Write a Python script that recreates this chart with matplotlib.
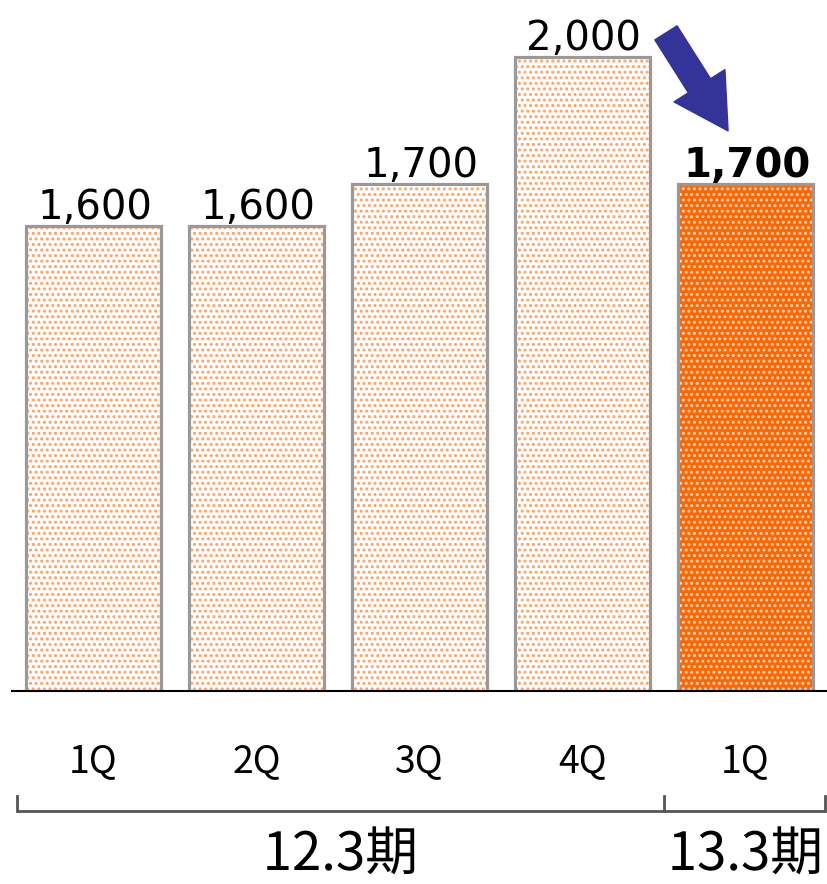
import matplotlib
matplotlib.use("Agg")
import matplotlib.pyplot as plt
import matplotlib.transforms as mtransforms
import matplotlib.patheffects as pe

quarters = ["1Q", "2Q", "3Q", "4Q", "1Q"]
values = [1600, 1600, 1700, 2000, 1700]
labels = ["1,600", "1,600", "1,700", "2,000", "1,700"]
periods = ["12.3期", "13.3期"]
period_spans = [(0, 3), (4, 4)]

plt.rcParams["hatch.linewidth"] = 1.4

fig = plt.figure(figsize=(8.27, 8.84), dpi=100)
ax = fig.add_axes([12 / 827, (884 - 691) / 884, 815 / 827, 691 / 884])
ymin = 500
ax.set_xlim(-0.5, 4.5)
ax.set_ylim(ymin, ymin + 691 / 0.4227)

x = list(range(len(values)))
heights = [v - ymin for v in values]
w = 0.83
light = x[:-1]
# light bars: white fill with orange dots
ax.bar(light, heights[:-1], w, bottom=ymin, color="white", edgecolor="#FFA060",
       hatch="...", linewidth=0)
# highlighted bar: orange fill with white dots
ax.bar(x[-1], heights[-1], w, bottom=ymin, color="#FF6600", edgecolor="#FFD8BF",
       hatch="...", linewidth=0)
# gray outlines
ax.bar(x, heights, w, bottom=ymin, fill=False, edgecolor="#999999", linewidth=2.3)

for i, (v, t) in enumerate(zip(values, labels)):
    bold = i == len(values) - 1
    ax.annotate(t, (i, v), xytext=(1, 5), textcoords="offset points",
                ha="center", va="baseline", fontsize=29,
                fontweight="bold" if bold else "normal", family="DejaVu Sans")

for s in ["top", "right", "left"]:
    ax.spines[s].set_visible(False)
ax.spines["bottom"].set_linewidth(1.5)
ax.spines["bottom"].set_color("black")
ax.set_xticks([])
ax.set_yticks([])

tr = mtransforms.blended_transform_factory(ax.transData, fig.transFigure)

def fy(py):
    return (884 - py) / 884

for i, q in enumerate(quarters):
    ax.text(i, fy(762), q, transform=tr, ha="center", va="center",
            fontsize=27, family=["Noto Sans CJK JP", "DejaVu Sans"])

# bracket
bx = [-0.47, 3.5, 4.5 - 0.01]
ax.plot([bx[0], bx[-1]], [fy(811), fy(811)], transform=tr, color="#555555",
        lw=2, clip_on=False, solid_capstyle="butt")
for b in bx:
    ax.plot([b, b], [fy(796), fy(811)], transform=tr, color="#555555",
            lw=2, clip_on=False)

for (a, b), p in zip(period_spans, periods):
    cx = (bx[0] + 3.5) / 2 if a == 0 else 4.0
    t = ax.text(cx, fy(882), p, transform=tr, ha="center", va="bottom",
                fontsize=38, family=["Noto Sans CJK JP", "DejaVu Sans"])
    t.set_path_effects([pe.SimpleLineShadow(offset=(2, -2), shadow_color="#888888",
                                            alpha=0.6, linewidth=0), pe.Normal()])

# arrow showing the drop
ax.annotate("", xy=(3.893, 1825), xytext=(3.512, 2057),
            arrowprops=dict(arrowstyle="simple,head_length=0.55,head_width=0.62,tail_width=0.27",
                            mutation_scale=70, color="#333399", shrinkA=0, shrinkB=0),
            annotation_clip=False)

fig.savefig("out.png", dpi=100)
